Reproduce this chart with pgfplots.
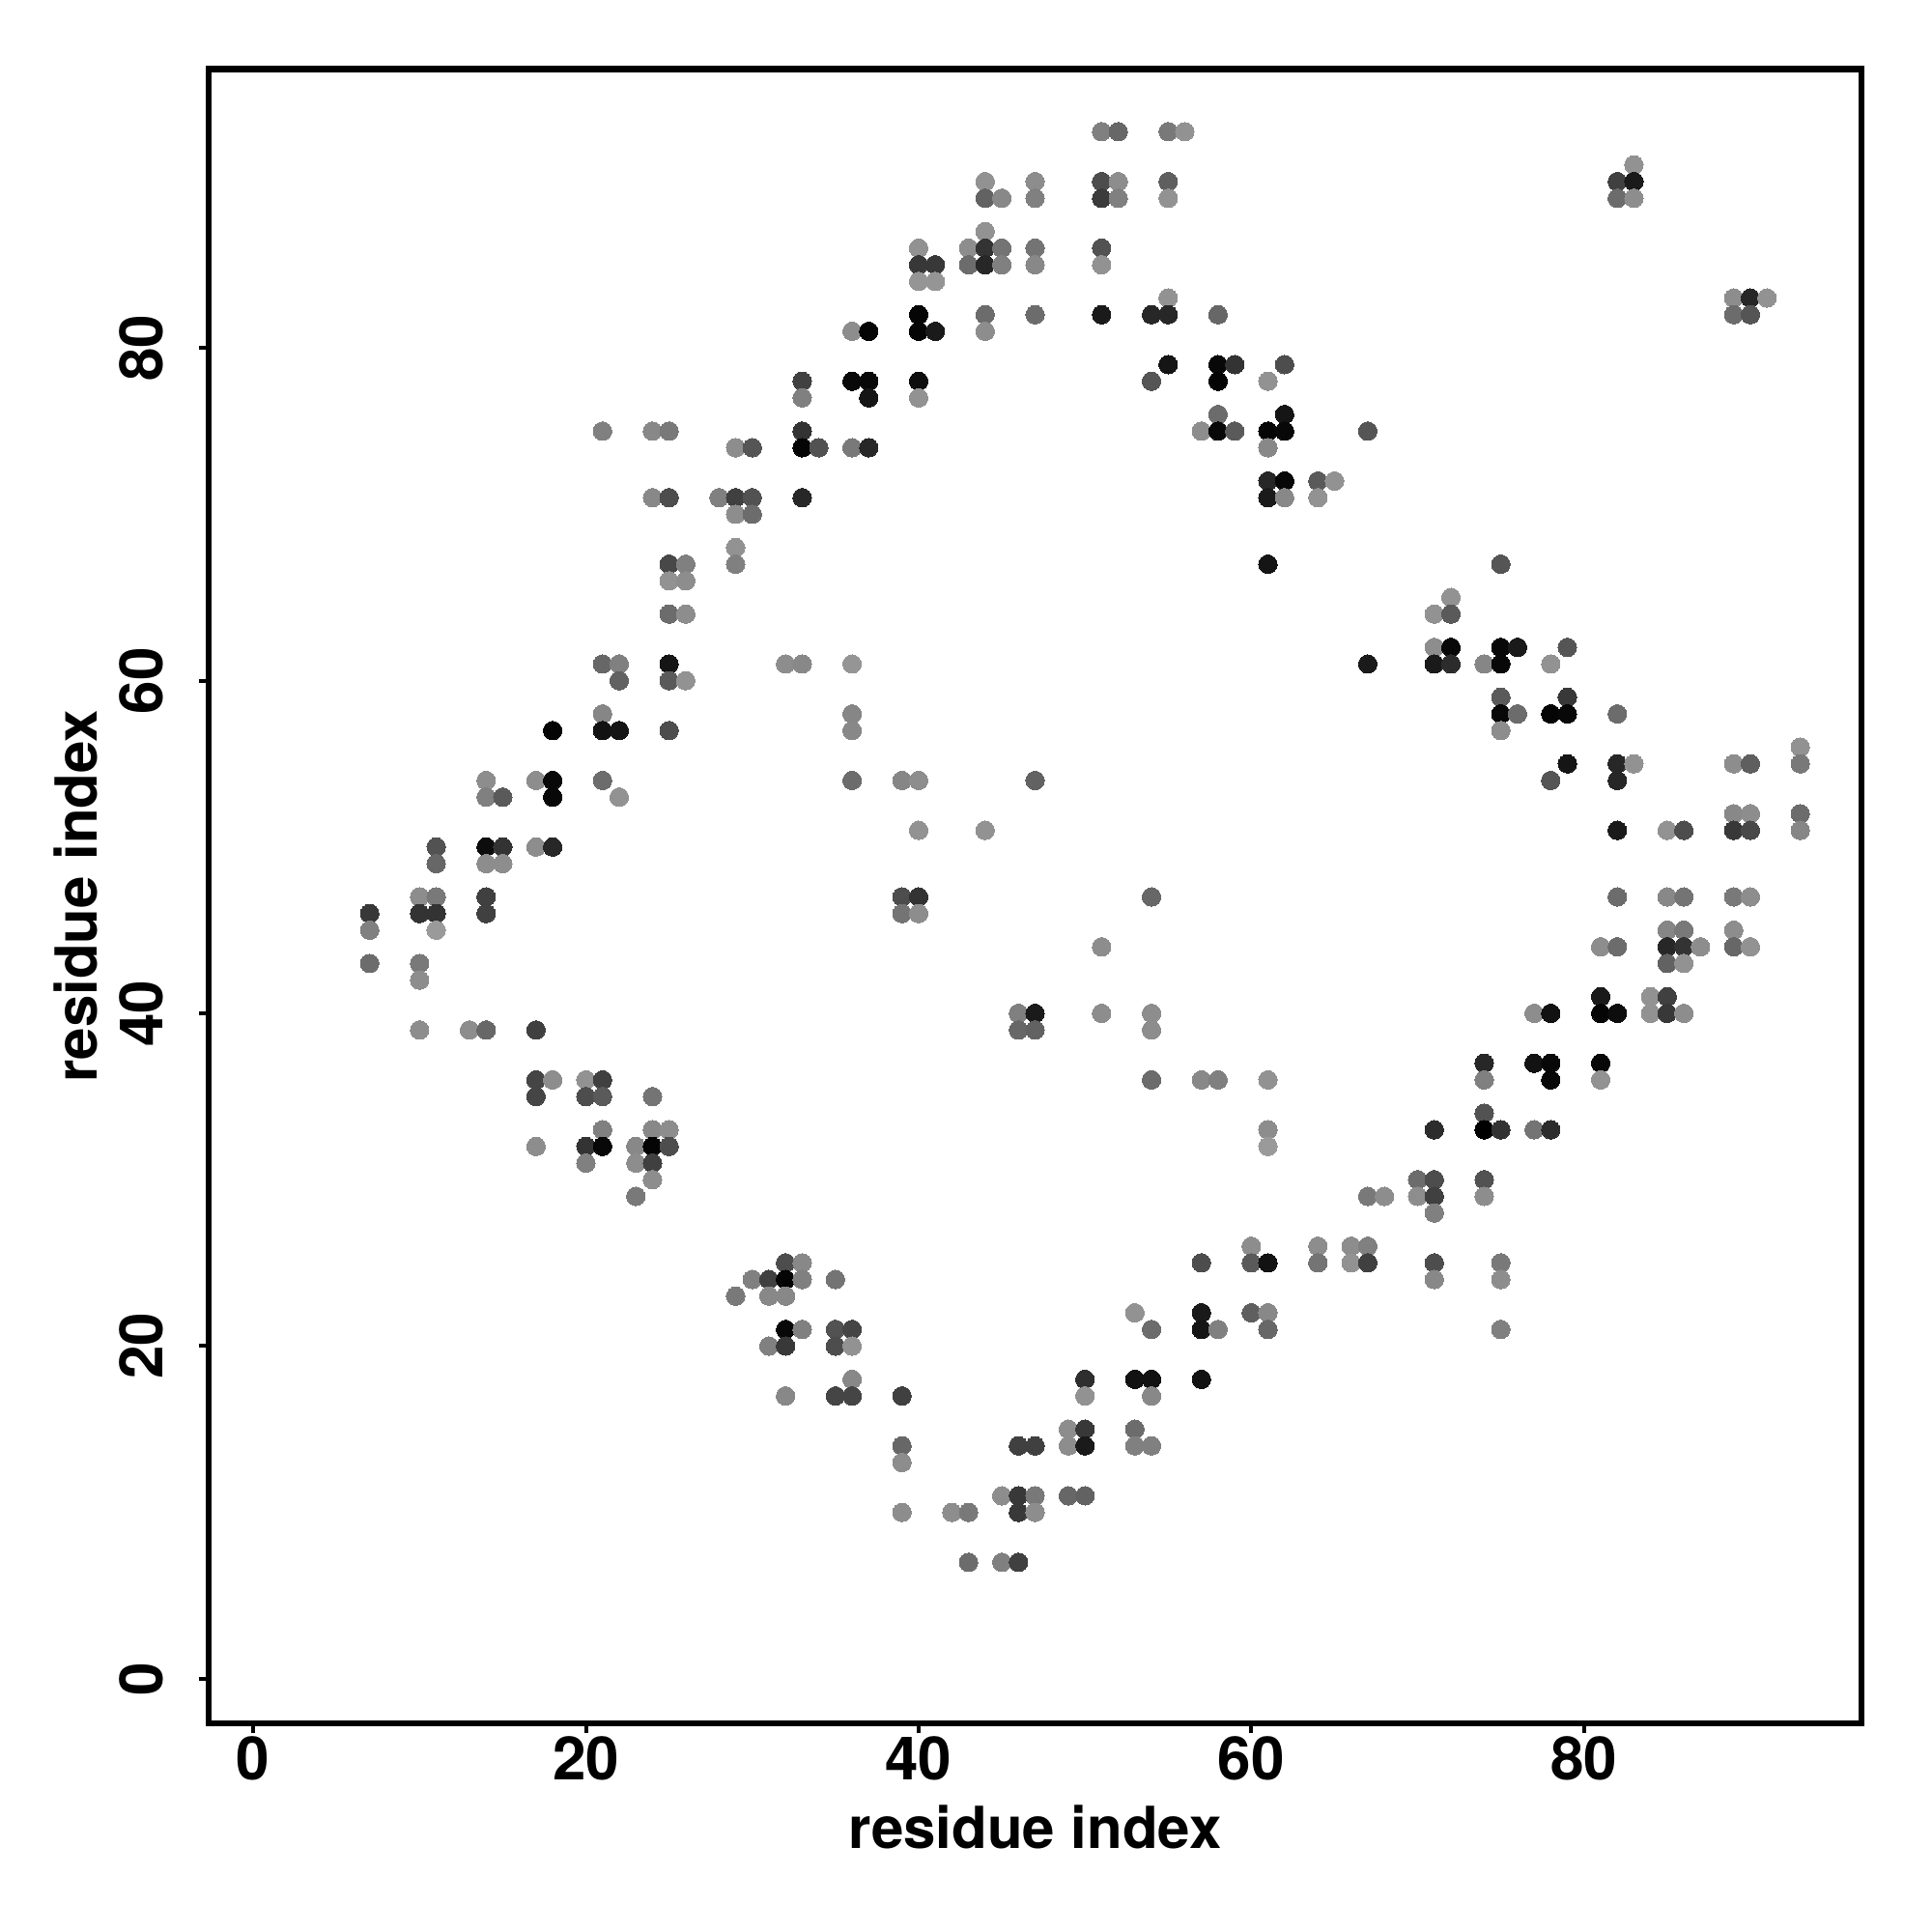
\documentclass[border=0pt]{standalone}
\usepackage{fontspec}
\setmainfont{TeX Gyre Heros}
\usepackage{pgfplots}
\usepackage{pgfplotstable}
\pgfplotsset{compat=1.18}
\pgfplotstableread{
x y g
51 93 .5
52 93 .4
55 93 .47
56 93 .57
83 91 .57
44 90 .57
47 90 .55
51 90 .3
52 90 .55
55 90 .37
82 90 .25
83 90 .1
44 89 .38
45 89 .53
47 89 .5
51 89 .23
52 89 .5
55 89 .57
82 89 .42
83 89 .55
44 87 .57
40 86 .57
43 86 .55
44 86 .2
45 86 .45
47 86 .45
51 86 .32
40 85 .22
41 85 .22
43 85 .42
44 85 .15
45 85 .5
47 85 .53
51 85 .57
40 84 .58
41 84 .58
55 83 .57
89 83 .55
90 83 .15
91 83 .57
40 82 .02
44 82 .42
47 82 .42
51 82 .1
54 82 .15
55 82 .15
58 82 .4
89 82 .42
90 82 .33
36 81 .55
37 81 .02
40 81 .02
41 81 .1
44 81 .55
55 79 .08
58 79 .03
59 79 .2
62 79 .3
33 78 .25
36 78 .03
37 78 .03
40 78 .05
54 78 .33
58 78 .02
61 78 .57
33 77 .5
37 77 .08
40 77 .57
58 76 .42
62 76 .08
21 75 .5
24 75 .53
25 75 .47
33 75 .2
57 75 .55
58 75 .03
59 75 .35
61 75 .02
62 75 .03
67 75 .33
29 74 .55
30 74 .33
33 74 .02
34 74 .32
36 74 .47
37 74 .15
61 74 .53
61 72 .15
62 72 .03
64 72 .35
65 72 .57
24 71 .53
25 71 .3
28 71 .5
29 71 .25
30 71 .32
33 71 .15
61 71 .1
62 71 .53
64 71 .57
29 70 .55
30 70 .42
29 68 .57
25 67 .28
26 67 .5
29 67 .5
61 67 .08
75 67 .33
25 66 .57
26 66 .55
72 65 .57
25 64 .42
26 64 .55
71 64 .57
72 64 .35
71 62 .55
72 62 .03
75 62 .03
76 62 .1
79 62 .33
21 61 .4
22 61 .5
25 61 .08
32 61 .55
33 61 .53
36 61 .58
67 61 .1
71 61 .1
72 61 .17
74 61 .52
75 61 .03
78 61 .57
22 60 .38
25 60 .35
26 60 .57
75 59 .35
79 59 .22
21 58 .52
36 58 .52
75 58 .03
76 58 .42
78 58 .02
79 58 .03
82 58 .42
18 57 .02
21 57 .07
22 57 .08
25 57 .3
36 57 .53
75 57 .55
93 56 .57
79 55 .08
82 55 .15
83 55 .57
89 55 .55
90 55 .37
93 55 .47
14 54 .55
17 54 .55
18 54 .03
21 54 .42
36 54 .42
39 54 .52
40 54 .55
47 54 .38
78 54 .33
82 54 .15
14 53 .5
15 53 .35
18 53 .03
22 53 .57
89 52 .53
90 52 .55
93 52 .42
40 51 .57
44 51 .57
82 51 .1
85 51 .57
86 51 .3
89 51 .22
90 51 .28
93 51 .52
11 50 .32
14 50 .05
15 50 .2
17 50 .55
18 50 .15
11 49 .4
14 49 .55
15 49 .55
10 47 .55
11 47 .47
14 47 .25
39 47 .3
40 47 .2
54 47 .4
82 47 .42
85 47 .53
86 47 .45
89 47 .47
90 47 .55
7 46 .22
10 46 .2
11 46 .2
14 46 .25
39 46 .45
40 46 .55
7 45 .5
11 45 .6
85 45 .52
86 45 .47
89 45 .55
51 44 .55
81 44 .55
82 44 .42
85 44 .15
86 44 .2
87 44 .55
89 44 .4
90 44 .57
7 43 .42
10 43 .47
85 43 .38
86 43 .57
10 42 .55
81 41 .1
84 41 .57
85 41 .25
46 40 .5
47 40 .1
51 40 .55
54 40 .55
77 40 .55
78 40 .07
81 40 .02
82 40 .05
84 40 .57
85 40 .22
86 40 .55
10 39 .55
13 39 .55
14 39 .4
17 39 .25
46 39 .4
47 39 .38
54 39 .55
74 37 .15
77 37 .07
78 37 .03
81 37 .03
17 36 .27
18 36 .55
20 36 .57
21 36 .25
54 36 .42
57 36 .53
58 36 .5
61 36 .57
74 36 .5
78 36 .03
81 36 .57
17 35 .27
20 35 .3
21 35 .35
24 35 .45
74 34 .32
21 33 .5
24 33 .53
25 33 .55
61 33 .55
71 33 .17
74 33 .0
75 33 .2
77 33 .45
78 33 .17
17 32 .55
20 32 .2
21 32 .03
23 32 .53
24 32 .02
25 32 .3
61 32 .6
20 31 .5
23 31 .55
24 31 .25
24 30 .55
70 30 .42
71 30 .3
74 30 .32
23 29 .47
67 29 .47
68 29 .55
70 29 .55
71 29 .25
74 29 .55
71 28 .5
60 26 .55
64 26 .55
66 26 .55
67 26 .5
32 25 .3
33 25 .53
57 25 .3
60 25 .35
61 25 .07
64 25 .45
66 25 .57
67 25 .25
71 25 .3
75 25 .47
30 24 .5
31 24 .25
32 24 .02
33 24 .5
35 24 .45
71 24 .53
75 24 .55
29 23 .47
31 23 .53
32 23 .53
53 22 .57
57 22 .1
60 22 .37
61 22 .53
32 21 .03
33 21 .5
35 21 .32
36 21 .27
54 21 .42
57 21 .08
58 21 .5
61 21 .4
75 21 .5
31 20 .5
32 20 .22
35 20 .3
36 20 .57
36 18 .53
50 18 .18
53 18 .07
54 18 .07
57 18 .07
32 17 .53
35 17 .27
36 17 .27
39 17 .25
50 17 .57
54 17 .53
49 15 .55
50 15 .22
53 15 .42
39 14 .4
46 14 .25
47 14 .25
49 14 .55
50 14 .1
53 14 .5
54 14 .5
39 13 .55
45 11 .55
46 11 .22
47 11 .47
49 11 .4
50 11 .38
39 10 .55
42 10 .55
43 10 .47
46 10 .22
47 10 .55
43 7 .42
45 7 .5
46 7 .25
}\contacts
\begin{document}
\begin{tikzpicture}
\path[use as bounding box] (-108pt,-108pt) rectangle (892pt,892pt);
\begin{axis}[
  at={(0pt,0pt)}, anchor=south west,
  scale only axis, width=855.5pt, height=856.2pt,
  xmin=-2.68, xmax=96.68, ymin=-2.68, ymax=96.76,
  xtick={0,20,40,60,80}, ytick={0,20,40,60,80},
  tick pos=left, tick align=outside,
  major tick length=5pt,
  tick style={line width=2pt, black},
  axis line style={line width=3.4pt, black},
  font=\fontsize{30}{36}\selectfont\bfseries,
  tick label style={font=\fontsize{31}{36}\selectfont\bfseries},
  /pgf/number format/assume math mode=true,
  xticklabel style={yshift=1.5pt},
  yticklabel style={rotate=90, anchor=south, yshift=15pt},
  xlabel={residue index}, ylabel={residue index},
  xlabel style={at={(axis description cs:0.5,0)}, anchor=center, yshift=-53.5pt},
  ylabel style={at={(axis description cs:0,0.5)}, anchor=center, rotate=0, yshift=69pt},
  colormap={bw}{gray(0cm)=(0); gray(1cm)=(1)},
  point meta min=0, point meta max=1,
]
\addplot[only marks, scatter, point meta=explicit, mark=*, mark size=4.8pt, mark options={line width=0pt},
  scatter/use mapped color={draw=mapped color, fill=mapped color}]
  table[x=x, y=y, meta=g] {\contacts};
\end{axis}
\end{tikzpicture}
\end{document}
